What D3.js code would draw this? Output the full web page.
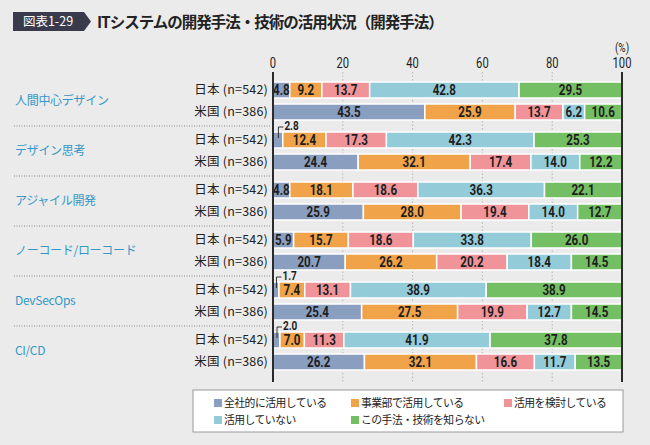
<!DOCTYPE html>
<html>
<head>
<meta charset="utf-8">
<script src="https://cdn.jsdelivr.net/npm/d3@7"></script>
<style>
  body { margin: 0; background: #ebebeb; }
  svg { display: block; }
</style>
</head>
<body>
<div id="chart"></div>
<script>
// Chart data
const categories = ['人間中心デザイン', 'デザイン思考', 'アジャイル開発', 'ノーコード/ローコード', 'DevSecOps', 'CI/CD'];
const countries = ['日本 (n=542)', '米国 (n=386)'];
const seriesNames = ['全社的に活用している', '事業部で活用している', '活用を検討している', '活用していない', 'この手法・技術を知らない'];
const japanValues = [
  [4.8, 9.2, 13.7, 42.8, 29.5],
  [2.8, 12.4, 17.3, 42.3, 25.3],
  [4.8, 18.1, 18.6, 36.3, 22.1],
  [5.9, 15.7, 18.6, 33.8, 26.0],
  [1.7, 7.4, 13.1, 38.9, 38.9],
  [2.0, 7.0, 11.3, 41.9, 37.8]
];
const usValues = [
  [43.5, 25.9, 13.7, 6.2, 10.6],
  [24.4, 32.1, 17.4, 14.0, 12.2],
  [25.9, 28.0, 19.4, 14.0, 12.7],
  [20.7, 26.2, 20.2, 18.4, 14.5],
  [25.4, 27.5, 19.9, 12.7, 14.5],
  [26.2, 32.1, 16.6, 11.7, 13.5]
];
const xTicks = [0, 20, 40, 60, 80, 100];

const colors = ['#8a9fbf', '#f0a348', '#f09499', '#93cbd8', '#74bf63'];
const cjk = '"Noto Sans CJK JP", "Noto Sans", sans-serif';
const narrow = 'Roboto, "Noto Sans", sans-serif';

const width = 650, height = 445;
const svg = d3.select('#chart').append('svg')
  .attr('width', width).attr('height', height);

svg.append('rect').attr('width', width).attr('height', height).attr('fill', '#ebebeb');

// condensed number text (squeezed horizontally)
function numText(parent, x, y, str, opts) {
  return parent.append('text')
    .attr('transform', `translate(${x},${y}) scale(0.8,1)`)
    .attr('dy', '0.36em')
    .attr('text-anchor', opts.anchor || 'middle')
    .attr('font-family', narrow)
    .attr('font-size', opts.size || 13)
    .attr('font-weight', opts.weight || 'normal')
    .attr('fill', '#1e1e1e')
    .text(str);
}

// Title
svg.append('path')
  .attr('d', 'M13,12 L84,12 L91,21.5 L84,31 L13,31 Z')
  .attr('fill', '#393b4c');
svg.append('text')
  .attr('x', 48).attr('y', 21.5).attr('dy', '0.35em')
  .attr('text-anchor', 'middle')
  .attr('fill', '#fff').attr('font-family', cjk).attr('font-size', 12.5)
  .text('図表1-29');
svg.append('text')
  .attr('x', 97).attr('y', 22).attr('dy', '0.36em')
  .attr('fill', '#222').attr('font-family', cjk).attr('font-size', 15.5).attr('font-weight', 'bold')
  .attr('letter-spacing', -1)
  .text('ITシステムの開発手法・技術の活用状況（開発手法）');

// Scales
const x = d3.scaleLinear().domain([0, 100]).range([273, 622]);
const yGroup = d3.scaleBand().domain(categories).range([76, 376]);
const yRow = d3.scaleBand().domain(countries).range([6, 44]).paddingInner(0.273);
const axisTop = 72, axisBottom = 382;

// Gridlines
svg.append('g').selectAll('line')
  .data(xTicks.filter(d => d > 0 && d < 100))
  .enter().append('line')
  .attr('x1', d => x(d)).attr('x2', d => x(d))
  .attr('y1', axisTop).attr('y2', axisBottom)
  .attr('stroke', '#b5b5b5').attr('stroke-width', 1)
  .attr('stroke-dasharray', '1.5,2');

// Tick labels
xTicks.forEach(d => numText(svg, x(d), 63, d, { size: 14 }));
numText(svg, x(100), 47, '(%)', { size: 12.5 });

// Group separators
svg.append('g').selectAll('line')
  .data(categories.slice(1))
  .enter().append('line')
  .attr('x1', 14).attr('x2', 271)
  .attr('y1', d => yGroup(d)).attr('y2', d => yGroup(d))
  .attr('stroke', '#888').attr('stroke-width', 1)
  .attr('stroke-dasharray', '1,1.5');

// Groups
categories.forEach((cat, i) => {
  const g = svg.append('g').attr('transform', `translate(0,${yGroup(cat)})`);

  g.append('text')
    .attr('x', 15).attr('y', yGroup.bandwidth() / 2).attr('dy', '0.35em')
    .attr('font-family', cjk).attr('font-size', 12).attr('fill', '#3598c6')
    .attr('letter-spacing', -0.3)
    .text(cat);

  [japanValues[i], usValues[i]].forEach((vals, r) => {
    const yTop = yRow(countries[r]);
    const bh = yRow.bandwidth();
    g.append('text')
      .attr('x', 268).attr('y', yTop + bh / 2).attr('dy', '0.35em')
      .attr('text-anchor', 'end')
      .attr('font-family', cjk).attr('font-size', 12.5).attr('fill', '#222')
      .attr('letter-spacing', 0.2)
      .text(countries[r]);

    let acc = 0;
    const segs = vals.map((v, k) => {
      const s = { v: v, k: k, x0: acc, x1: acc + v };
      acc += v;
      return s;
    });

    g.selectAll(null).data(segs).enter().append('rect')
      .attr('x', d => x(d.x0))
      .attr('y', yTop)
      .attr('width', d => Math.max(0, x(Math.min(d.x1, 100)) - x(d.x0)))
      .attr('height', bh)
      .attr('fill', d => colors[d.k])
      .attr('stroke', '#fff').attr('stroke-width', 1.5);

    segs.forEach(d => {
      if (d.v >= 4) {
        numText(g, (x(d.x0) + x(Math.min(d.x1, 100))) / 2, yTop + bh / 2, d.v.toFixed(1),
          { size: 14.5, weight: 'bold' });
      } else {
        // small value: label above with a leader line
        const lx = x((d.x0 + d.x1) / 2) + 0.5;
        const ly = yTop - 5;
        g.append('path')
          .attr('d', `M${lx},${yTop + 6} L${lx},${ly} L${lx + 5},${ly}`)
          .attr('fill', 'none').attr('stroke', '#333').attr('stroke-width', 1);
        numText(g, lx + 6, ly - 2, d.v.toFixed(1), { size: 12.5, weight: 'bold', anchor: 'start' });
      }
    });
  });
});

// Axis lines (0 and 100)
[0, 100].forEach(v => {
  svg.append('line')
    .attr('x1', x(v)).attr('x2', x(v))
    .attr('y1', axisTop).attr('y2', axisBottom)
    .attr('stroke', '#2b2b2b').attr('stroke-width', 2);
});

// Legend
const legend = svg.append('g');
legend.append('rect')
  .attr('x', 193).attr('y', 390).attr('width', 430).attr('height', 42)
  .attr('fill', '#fff').attr('stroke', '#9a9a9a').attr('stroke-width', 1);
const legendPos = [[214, 403], [351, 403], [504, 403], [214, 420], [351, 420]];
seriesNames.forEach((name, k) => {
  const [lx, ly] = legendPos[k];
  legend.append('rect')
    .attr('x', lx).attr('y', ly - 4).attr('width', 8).attr('height', 8)
    .attr('fill', colors[k]);
  legend.append('text')
    .attr('x', lx + 10).attr('y', ly).attr('dy', '0.35em')
    .attr('font-family', cjk).attr('font-size', 10.8).attr('fill', '#222')
    .attr('letter-spacing', -0.5)
    .text(name);
});
</script>
</body>
</html>
